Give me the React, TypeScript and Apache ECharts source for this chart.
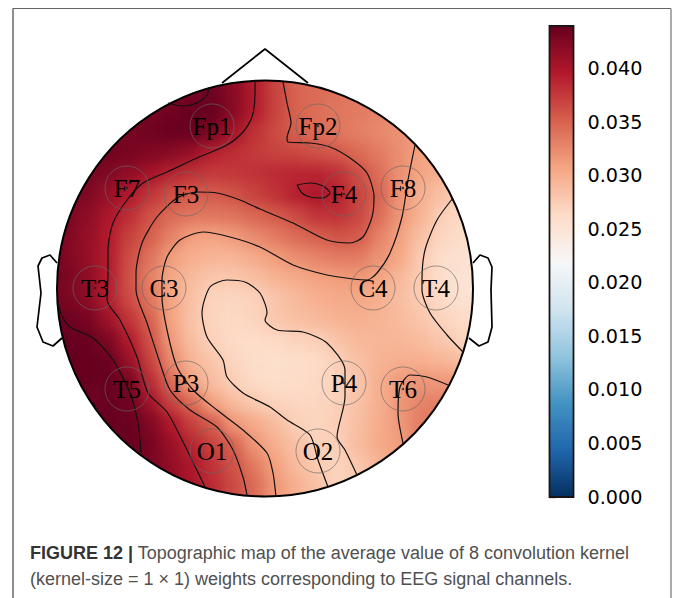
import React, { useEffect, useRef } from "react";
import * as echarts from "echarts";

// Field, in thousandths, rows top to bottom on a 22 x 22 lattice
const fieldRows: number[][] = [
  [42.5,42.5,42.5,42.5,42.5,42.5,42.5,43,43.7,42,39.5,37,35,34.5,34,33.5,33,32.5,32,31.5,31,31],
  [42.5,42.5,42.5,42.5,42.5,42.5,42.5,43,43.7,42,39.5,37,35,34.5,34,33.5,33,32.5,32,31.5,31,31],
  [43,43,43,43,43,43,43.5,44,44,42,39.5,37,35,34.3,33.8,33.5,33,32.5,32,31.5,31,30.5],
  [43,43,43,43,43,43.5,43.8,43.8,42.8,40.3,38,36.5,35.2,34.5,33.8,33.2,32.6,32,31.5,31,30.5,30],
  [43.5,43.5,43.5,43.5,43,42.5,42,41,39.2,38.3,37.5,37,36.7,36.2,35.6,34.5,33.5,32.2,31,30.5,30,29.5],
  [43.5,43.5,43.2,42.5,41.5,40.3,39,38,37.5,37.6,38,38.5,38.8,39,38.2,36.3,34.3,32,30.8,29.8,29,28.5],
  [43.5,43,42.6,41.2,39.6,37.8,36.2,35.5,35.5,36,37,38,39.2,40,39.2,37,35,31.8,30,28.5,27,26.5],
  [43.5,42.8,41.7,40,38.3,36,34.5,33.8,33.8,34,34.8,35.5,36.5,38,38,36.8,34.3,31.7,29.7,27.4,26.5,26],
  [43.5,42.5,41.3,39.6,37,35.2,33,31.2,31,31.4,32.5,33.5,34.5,35.3,36,35.6,33,31,28.7,26.8,26,25.5],
  [43.5,42.5,41.3,39.5,36.3,34,31.2,30,29.5,29.5,30.3,31.3,32.3,33,33.5,33.5,32,30.5,27.7,26,25.5,25],
  [43.5,42.8,41.7,39.5,36,33,30.5,29,28.1,28,28.7,29.7,30.3,31,31.3,31.6,30.8,29.2,27.6,26,25.2,25],
  [43.5,42.8,41.8,39.3,36.4,33.7,30.8,28.5,27,26.8,27.1,28.2,29.2,30,30.3,30.5,30,28.8,27.7,26.2,25.5,25],
  [43.5,43.7,43,40.7,37.8,35,30.8,28.3,27,26.6,27,28,28.6,29.2,29.7,29.9,29.6,29,28.2,27,26.2,26],
  [44,44,43.9,42.8,39.5,36,31.4,28.7,27.2,26.4,26.2,26.6,27,27.4,28.3,29.2,29.4,29.4,29,28,27,27],
  [44,44,44,43.9,41,37,32.5,29.5,28.2,26.8,26,25.8,26,26.5,27.3,28.6,29.6,30,30,29.5,28.8,28.5],
  [44,44,44,44,43,38.5,34.5,30.8,28.8,27.4,26.4,26,26.2,26.6,27.2,28.2,30,31.5,32,31.6,31.5,31.5],
  [44,44,43.4,44,43.6,40.5,37,34.5,31,29,27.8,27,26.7,26.9,27.3,28.5,30,31.7,33,33.2,33,33],
  [44,44,44,44,43.8,42.5,39.8,37,35.4,31.6,30.3,28.9,27.3,26.9,27.5,28.7,30.2,31.5,33.5,34,34,34],
  [44,44,44,44,44,43,41,38.8,37,35,31.7,30,28.5,27.3,27.4,29,30.3,31.3,33.5,34,34,34],
  [44,44,44,44,44,43,41.5,39.7,38,36,33.5,31,29,27.8,27,28,29.5,31,33,34,34,34],
  [44,44,44,44,44,43,41.5,40,38.5,36.5,34.5,31.6,30,28.5,27,27.5,29,30.5,32,33,33,33],
  [44,44,44,44,44,43,41.5,40,38.5,36.5,34.5,31.6,30,28.5,27,27.5,29,30.5,32,33,33,33],
];

const colorStops = ["#053061","#2166ac","#4393c3","#92c5de","#d1e5f0","#f7f7f7","#fddbc7","#f4a582","#d6604d","#b2182b","#67001f"];
const colorbarTicks = [0, 0.005, 0.01, 0.015, 0.02, 0.025, 0.03, 0.035, 0.04];
const scaleMax = 0.044;

const electrodes: [string, number, number][] = [
  ["Fp1",212,126],["Fp2",318,126],["F7",127,188],["F3",186,194],["F4",344,194],["F8",403,188],
  ["T3",95,288],["C3",164,288],["C4",373,288],["T4",436,288],["T5",127,389],["P3",186,383],
  ["P4",344,383],["T6",403,389],["O1",212,451],["O2",318,451],
];

// Contours, in picture coordinates
const contourA = [[168,103],[182,106],[197,103],[207,95],[209,87]];
const contourEdge = [[58,303],[62,316],[70,327],[93,338],[113,360],[130,393],[138,423],[141,453]];
const contourEdgeSmall = [[93,402],[98,412]];
const contourB = [[255,81],[255,93],[252,117],[243,132],[227,145],[197,158],[167,172],[143,183],[127,200],[113,223],[108,250],[108,273],[107,300],[120,320],[137,357],[148,393],[167,412],[187,450],[205,487]];
const contourC = [[283,82],[287,103],[291,123],[287,138],[288,142],[310,143],[330,147],[350,158],[367,173],[374,197],[372,217],[363,237],[350,243],[327,240],[293,223],[260,209],[240,200],[217,193],[197,192],[177,198],[157,217],[142,243],[136,273],[136,290],[147,323],[160,363],[170,390],[190,410],[217,427],[233,450],[243,477],[247,495]];
const contourD = [[415,145],[408,180],[402,217],[390,253],[377,273],[367,280],[353,279],[327,275],[293,265],[260,247],[230,237],[203,232],[180,240],[167,257],[162,280],[162,297],[167,330],[177,367],[193,390],[217,410],[243,430],[267,453],[273,473],[276,497]];
const contourE = [[357,475],[345,450],[337,437],[345,397],[345,370],[327,343],[303,332],[277,330],[265,320],[267,313],[260,293],[245,282],[227,280],[210,287],[202,313],[207,337],[223,360],[227,377],[243,393],[270,407],[287,420],[310,435],[318,460],[328,487]];
const contourT4 = [[453,198],[437,220],[425,250],[422,280],[422,290],[430,313],[447,335],[463,352]];
const contourT6 = [[403,443],[398,413],[400,387],[410,375],[427,377],[448,385]];
const contourF4 = [[297,185],[310,183],[323,186],[330,193],[323,198],[310,197],[302,193],[297,185]];
const contours = [contourA, contourEdge, contourEdgeSmall, contourB, contourC, contourD, contourE, contourT4, contourT6, contourF4];

const nose = [[222,83],[265,49],[308,83]];
const earLeft = [[57,263],[50,255],[42,258],[38,266],[41,293],[37,327],[43,342],[53,346],[62,338]];
const earRight = [[473,263],[480,255],[488,258],[492,267],[491,290],[492,327],[488,342],[479,346],[469,338]];
const headCentre = [265, 288.5];
const headRadius = 208;

const captionBold = "FIGURE 12 |";
const captionLine1 = " Topographic map of the average value of 8 convolution kernel";
const captionLine2 = "(kernel-size = 1 × 1) weights corresponding to EEG signal channels.";

export default function App() {
  const fieldRef = useRef<HTMLDivElement>(null);
  const topRef = useRef<HTMLDivElement>(null);

  useEffect(() => {
    const fieldChart = echarts.init(fieldRef.current!, undefined, { renderer: "svg" });
    const cells: number[][] = [];
    fieldRows.forEach((row, j) => row.forEach((v, i) => cells.push([i, j, v / 1000])));
    fieldChart.setOption({
      animation: false,
      grid: { left: 36.2, top: 59.7, width: 457.6, height: 457.6 },
      xAxis: { type: "category", show: false, data: fieldRows[0].map((_, i) => i) },
      yAxis: { type: "category", show: false, inverse: true, data: fieldRows.map((_, j) => j) },
      visualMap: { show: false, min: 0, max: scaleMax, inRange: { color: colorStops } },
      series: [{ type: "heatmap", data: cells, silent: true, progressive: 0 }],
    });

    const chart = echarts.init(topRef.current!, undefined, { renderer: "svg" });
    const lineBase = { type: "line", showSymbol: false, silent: true, xAxisIndex: 0, yAxisIndex: 0 };
    chart.setOption({
      animation: false,
      backgroundColor: "transparent",
      grid: [
        { left: 0, top: 0, width: 675, height: 598, show: false },
        { left: 549.5, top: 26, width: 24, height: 471, show: false },
      ],
      xAxis: [
        { type: "value", min: 0, max: 675, show: false, gridIndex: 0 },
        { type: "value", min: 0, max: 1, show: false, gridIndex: 1 },
      ],
      yAxis: [
        { type: "value", min: 0, max: 598, inverse: true, show: false, gridIndex: 0 },
        {
          type: "value", min: 0, max: scaleMax, gridIndex: 1, position: "right",
          splitLine: { show: false },
          axisLine: { show: false },
          axisTick: { show: true, length: 6, customValues: colorbarTicks, lineStyle: { color: "#111", width: 1.3 } },
          axisLabel: {
            show: true, customValues: colorbarTicks, margin: 14, fontSize: 19.2, color: "#000",
            fontFamily: "DejaVu Sans", formatter: (v: number) => v.toFixed(3),
          },
        },
      ],
      visualMap: {
        type: "continuous", seriesIndex: [], min: 0, max: scaleMax, left: 549.5, top: 26, padding: 0,
        itemWidth: 24, itemHeight: 471, text: null, calculable: false, hoverLink: false,
        inRange: { color: colorStops },
      },
      graphic: [
        { type: "line", z: 20, shape: { x1: 13, y1: 8.5, x2: 671, y2: 8.5 }, style: { stroke: "#666", lineWidth: 1.2 } },
        { type: "line", z: 20, shape: { x1: 13, y1: 8.5, x2: 13, y2: 598 }, style: { stroke: "#444", lineWidth: 1.2 } },
        { type: "line", z: 20, shape: { x1: 671, y1: 8.5, x2: 671, y2: 598 }, style: { stroke: "#888", lineWidth: 1.4 } },
        { type: "rect", z: 20, shape: { x: 549.5, y: 26, width: 24, height: 471 }, style: { fill: "none", stroke: "#1c1414", lineWidth: 1.8 } },
        {
          type: "text", z: 20, x: 30, y: 540,
          style: {
            text: `{b|${captionBold}}{r|${captionLine1}}\n{r|${captionLine2}}`,
            rich: {
              b: { fontFamily: "Liberation Sans", fontSize: 18, fontWeight: "bold", fill: "#333", lineHeight: 26 },
              r: { fontFamily: "Liberation Sans", fontSize: 18, fill: "#505050", lineHeight: 26 },
            },
          },
        },
      ],
      series: [
        {
          type: "custom", xAxisIndex: 0, yAxisIndex: 0, z: 1, silent: true, data: [[0, 0]],
          renderItem: (_p: any, api: any) => {
            const c = api.coord(headCentre);
            const outer = [[15, 30], [530, 30], [530, 538], [15, 538], [15, 30]].map((p) => api.coord(p));
            const inner: number[][] = [];
            for (let a = 0; a <= 360; a += 2) {
              const t = (a * Math.PI) / 180;
              inner.push([c[0] + headRadius * Math.cos(t), c[1] - headRadius * Math.sin(t)]);
            }
            const bridge = api.coord([15, 30]);
            return {
              type: "group",
              children: [
                { type: "polygon", shape: { points: [...outer, ...inner, inner[0], bridge] }, style: { fill: "#fff" } },
                { type: "circle", shape: { cx: c[0], cy: c[1], r: headRadius }, style: { fill: "none", stroke: "#000", lineWidth: 2 } },
              ],
            };
          },
        },
        ...contours.map((c) => ({ ...lineBase, z: 3, data: c, smooth: 0.25, lineStyle: { color: "#111", width: 1.2 } })),
        ...[nose, earLeft, earRight].map((c) => ({ ...lineBase, z: 3, data: c, lineStyle: { color: "#000", width: 1.7 } })),
        {
          type: "scatter", xAxisIndex: 0, yAxisIndex: 0, z: 4, silent: true, symbolSize: 44,
          data: electrodes.map(([name, x, y]) => ({ name, value: [x, y] })),
          itemStyle: { color: "rgba(0,0,0,0)", borderColor: "#666", borderWidth: 0.8 },
          label: {
            show: true, position: "inside", formatter: "{b}", fontFamily: "Liberation Serif",
            fontSize: 25, color: "#000", opacity: 1,
          },
        },
        {
          type: "scatter", xAxisIndex: 0, yAxisIndex: 0, z: 4, silent: true, symbolSize: 2.5,
          data: electrodes.map(([, x, y]) => [x, y]), itemStyle: { color: "#222" },
        },
        { type: "scatter", xAxisIndex: 1, yAxisIndex: 1, data: [], silent: true },
      ],
    });
    return () => {
      chart.dispose();
      fieldChart.dispose();
    };
  }, []);

  const layer: React.CSSProperties = { position: "absolute", left: 0, top: 0, width: 675, height: 598 };
  return (
    <div style={{ ...layer, overflow: "hidden", background: "#fff" }}>
      <div ref={fieldRef} style={{ ...layer, filter: "blur(7px)" }} />
      <div ref={topRef} style={layer} />
    </div>
  );
}
